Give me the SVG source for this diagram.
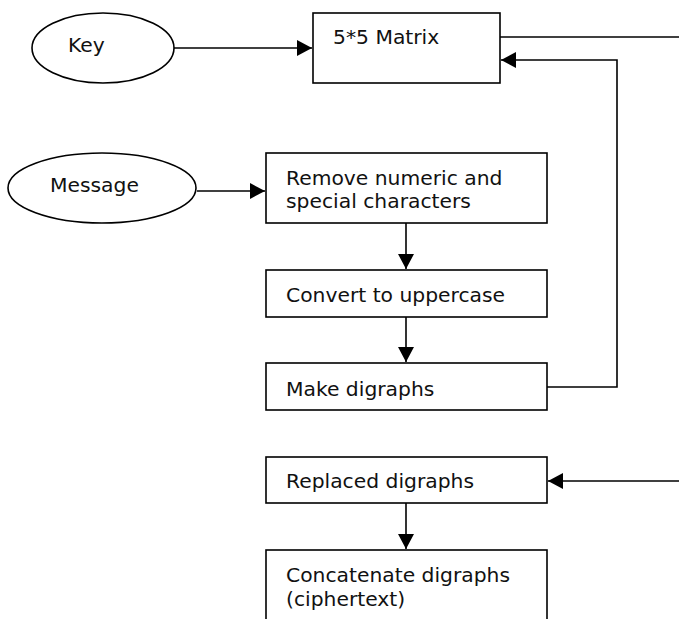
<svg xmlns="http://www.w3.org/2000/svg" width="679" height="619" viewBox="0 0 679 619">
  <style>
    .shape { fill: #ffffff; stroke: #000000; stroke-width: 1.6; }
    .wire { fill: none; stroke: #000000; stroke-width: 1.6; }
    .label { font-family: "DejaVu Sans", Verdana, sans-serif; font-size: 20.3px; fill: #111111; }
  </style>
  <defs>
    <marker id="head" markerUnits="userSpaceOnUse" markerWidth="16" markerHeight="16" viewBox="0 0 16 16" refX="15" refY="8" orient="auto">
      <path d="M0,0 L15,8 L0,16 Z" fill="#000000"/>
    </marker>
  </defs>

  <!-- connectors -->
  <g id="connectors">
    <line class="wire" x1="174" y1="48" x2="312" y2="48" marker-end="url(#head)"/>
    <polyline class="wire" points="500,37 679,37"/>
    <polyline class="wire" points="547,387 617,387 617,60 501,60" marker-end="url(#head)"/>
    <line class="wire" x1="197" y1="191" x2="265" y2="191" marker-end="url(#head)"/>
    <line class="wire" x1="406" y1="223" x2="406" y2="269" marker-end="url(#head)"/>
    <line class="wire" x1="406" y1="317" x2="406" y2="362" marker-end="url(#head)"/>
    <polyline class="wire" points="679,481 548,481" marker-end="url(#head)"/>
    <line class="wire" x1="406" y1="503" x2="406" y2="549" marker-end="url(#head)"/>
  </g>

  <g id="key">
    <ellipse class="shape" cx="103" cy="48" rx="71" ry="35"/>
    <text class="label" x="68" y="52">Key</text>
  </g>

  <g id="matrix">
    <rect class="shape" x="313" y="13" width="187" height="70"/>
    <text class="label" x="333" y="44">5*5 Matrix</text>
  </g>

  <g id="message">
    <ellipse class="shape" cx="102" cy="188" rx="94" ry="35"/>
    <text class="label" x="50" y="192">Message</text>
  </g>

  <g id="remove">
    <rect class="shape" x="266" y="153" width="281" height="70"/>
    <text class="label" x="286" y="185">Remove numeric and</text>
    <text class="label" x="286" y="208">special characters</text>
  </g>

  <g id="uppercase">
    <rect class="shape" x="266" y="270" width="281" height="47"/>
    <text class="label" x="286" y="302">Convert to uppercase</text>
  </g>

  <g id="digraphs">
    <rect class="shape" x="266" y="363" width="281" height="47"/>
    <text class="label" x="286" y="396">Make digraphs</text>
  </g>

  <g id="replaced">
    <rect class="shape" x="266" y="457" width="281" height="46"/>
    <text class="label" x="286" y="488">Replaced digraphs</text>
  </g>

  <g id="concatenate">
    <rect class="shape" x="266" y="550" width="281" height="90"/>
    <text class="label" x="286" y="582">Concatenate digraphs</text>
    <text class="label" x="286" y="606">(ciphertext)</text>
  </g>
</svg>
